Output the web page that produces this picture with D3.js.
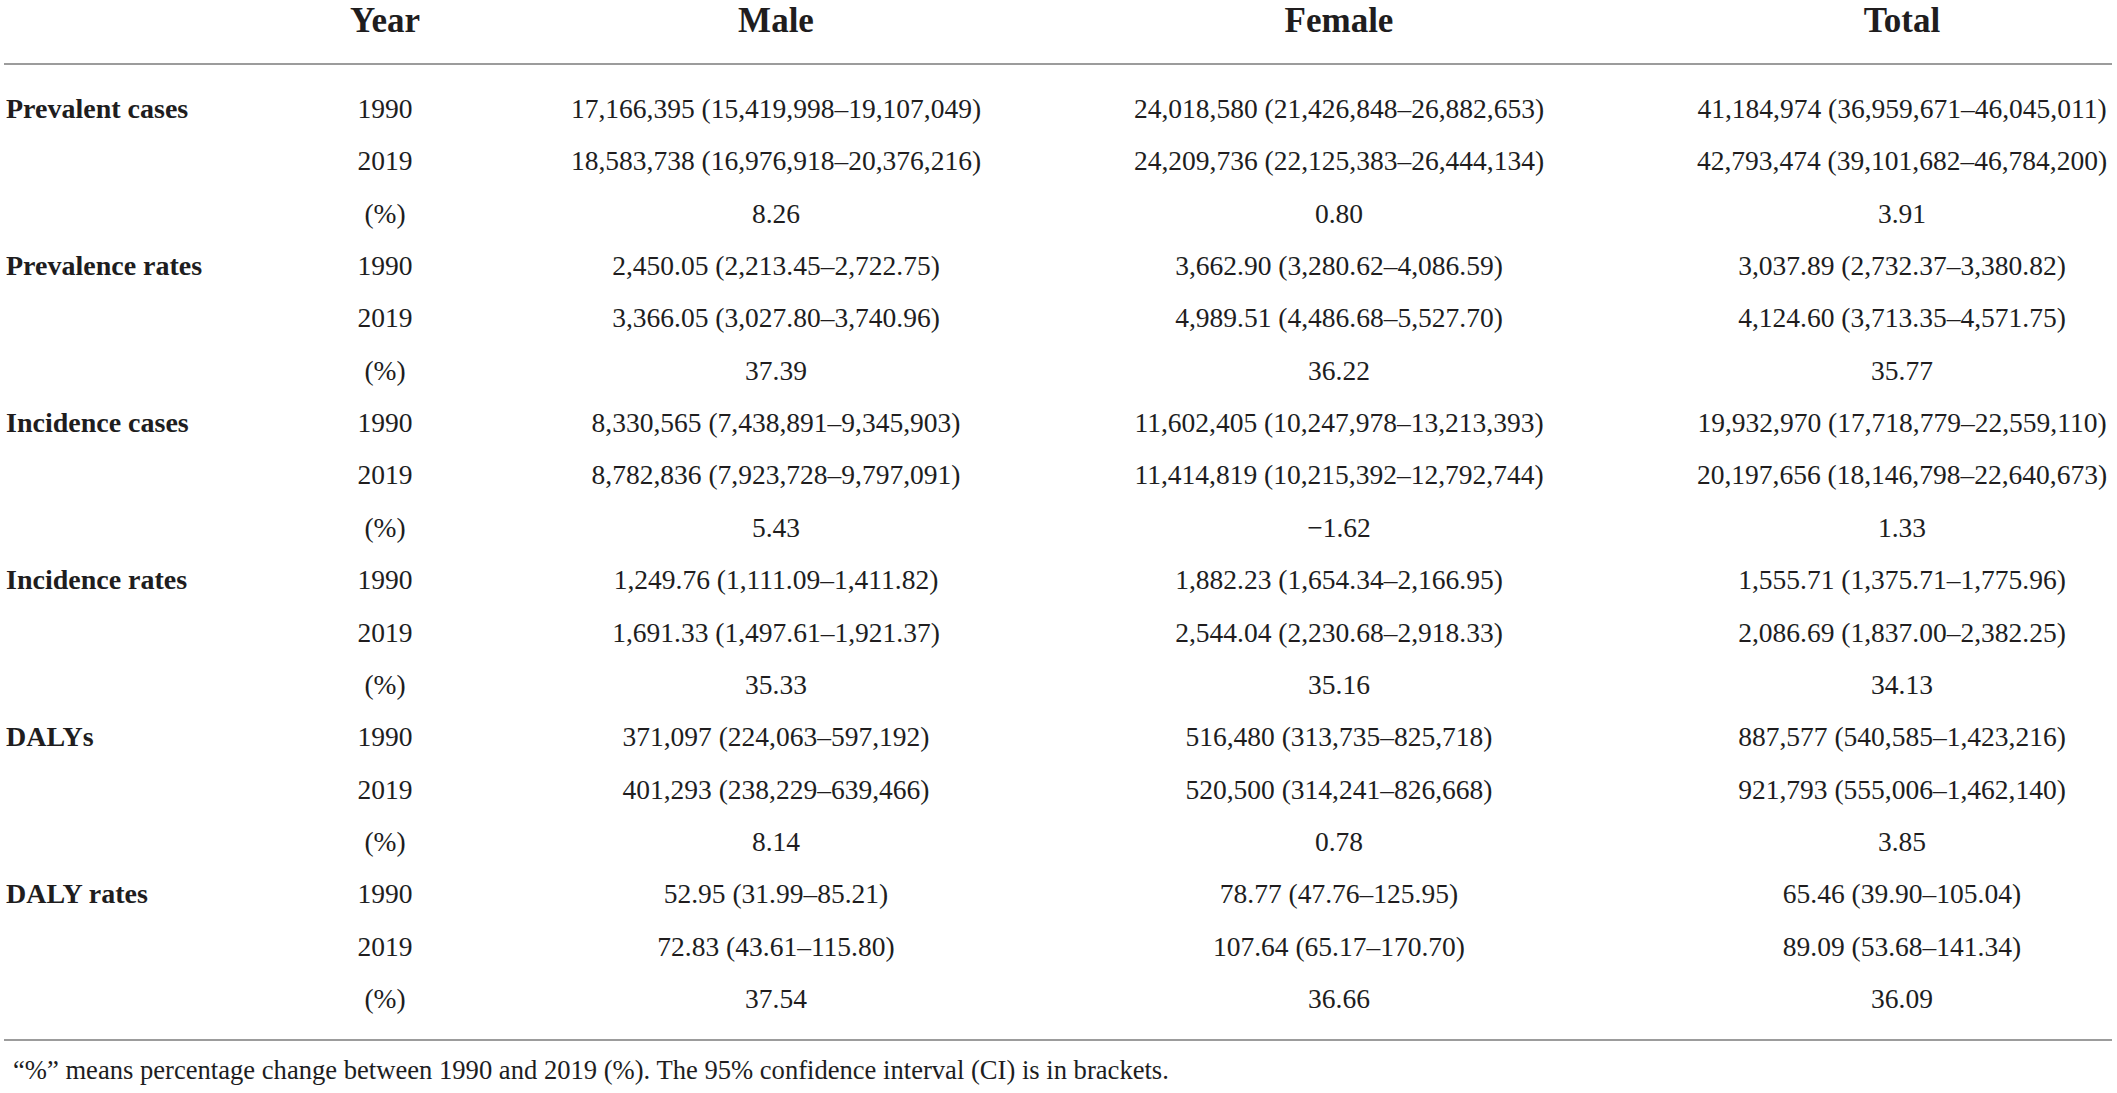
<!DOCTYPE html>
<html lang="en">

<head>
	<meta charset="utf-8">
	<title>D3: table of cases, rates and DALYs</title>
	<script type="text/javascript" src="https://cdn.jsdelivr.net/npm/d3@7"></script>
	<style type="text/css">
		body { margin: 0; background: #fff; }
		svg { display: block; }
	</style>
</head>

<body>
	<script type="text/javascript">
		const width = 2117;
		const height = 1093;

		const headers = ["Year", "Male", "Female", "Total"];
		const measures = ["Prevalent cases", "Prevalence rates", "Incidence cases", "Incidence rates", "DALYs", "DALY rates"];
		const periods = ["1990", "2019", "(%)"];

		const male = [
			"17,166,395 (15,419,998–19,107,049)", "18,583,738 (16,976,918–20,376,216)", "8.26",
			"2,450.05 (2,213.45–2,722.75)", "3,366.05 (3,027.80–3,740.96)", "37.39",
			"8,330,565 (7,438,891–9,345,903)", "8,782,836 (7,923,728–9,797,091)", "5.43",
			"1,249.76 (1,111.09–1,411.82)", "1,691.33 (1,497.61–1,921.37)", "35.33",
			"371,097 (224,063–597,192)", "401,293 (238,229–639,466)", "8.14",
			"52.95 (31.99–85.21)", "72.83 (43.61–115.80)", "37.54"
		];
		const female = [
			"24,018,580 (21,426,848–26,882,653)", "24,209,736 (22,125,383–26,444,134)", "0.80",
			"3,662.90 (3,280.62–4,086.59)", "4,989.51 (4,486.68–5,527.70)", "36.22",
			"11,602,405 (10,247,978–13,213,393)", "11,414,819 (10,215,392–12,792,744)", "−1.62",
			"1,882.23 (1,654.34–2,166.95)", "2,544.04 (2,230.68–2,918.33)", "35.16",
			"516,480 (313,735–825,718)", "520,500 (314,241–826,668)", "0.78",
			"78.77 (47.76–125.95)", "107.64 (65.17–170.70)", "36.66"
		];
		const total = [
			"41,184,974 (36,959,671–46,045,011)", "42,793,474 (39,101,682–46,784,200)", "3.91",
			"3,037.89 (2,732.37–3,380.82)", "4,124.60 (3,713.35–4,571.75)", "35.77",
			"19,932,970 (17,718,779–22,559,110)", "20,197,656 (18,146,798–22,640,673)", "1.33",
			"1,555.71 (1,375.71–1,775.96)", "2,086.69 (1,837.00–2,382.25)", "34.13",
			"887,577 (540,585–1,423,216)", "921,793 (555,006–1,462,140)", "3.85",
			"65.46 (39.90–105.04)", "89.09 (53.68–141.34)", "36.09"
		];
		const footnote = "“%” means percentage change between 1990 and 2019 (%). The 95% confidence interval (CI) is in brackets.";

		// one record per table row
		const rows = [];
		measures.forEach(function (m, i) {
			periods.forEach(function (p, j) {
				const k = i * 3 + j;
				rows.push({ measure: j === 0 ? m : "", period: p, cells: [p, male[k], female[k], total[k]] });
			});
		});

		const x = d3.scaleOrdinal().domain(headers).range([385, 776, 1339, 1902]);
		const y = d3.scaleLinear().domain([0, rows.length - 1]).range([118, 1008]);

		const svg = d3.select("body")
			.append("svg")
			.attr("width", width)
			.attr("height", height)
			.style("font-family", "'Liberation Serif', 'Times New Roman', serif")
			.style("fill", "#201d1e");

		// header
		svg.selectAll(".head")
			.data(headers)
			.enter().append("text")
			.attr("class", "head")
			.attr("x", d => x(d))
			.attr("y", 32)
			.attr("text-anchor", "middle")
			.style("font-weight", "bold")
			.style("font-size", "35px")
			.text(d => d);

		// rules
		svg.selectAll(".rule")
			.data([64, 1040])
			.enter().append("line")
			.attr("x1", 4)
			.attr("x2", 2112)
			.attr("y1", d => d)
			.attr("y2", d => d)
			.style("stroke", "#9c9c9c")
			.style("stroke-width", 2);

		const row = svg.selectAll(".row")
			.data(rows)
			.enter().append("g")
			.attr("transform", (d, i) => "translate(0," + y(i) + ")");

		row.append("text")
			.attr("x", 6)
			.style("font-weight", "bold")
			.style("font-size", "28px")
			.text(d => d.measure);

		row.selectAll(".cell")
			.data(d => d.cells.map((c, i) => ({ col: headers[i], value: c })))
			.enter().append("text")
			.attr("x", d => x(d.col))
			.attr("text-anchor", "middle")
			.style("font-size", "27.5px")
			.text(d => d.value);

		svg.append("text")
			.attr("x", 13)
			.attr("y", 1079)
			.style("font-size", "26.6px")
			.text(footnote);
	</script>
</body>

</html>
